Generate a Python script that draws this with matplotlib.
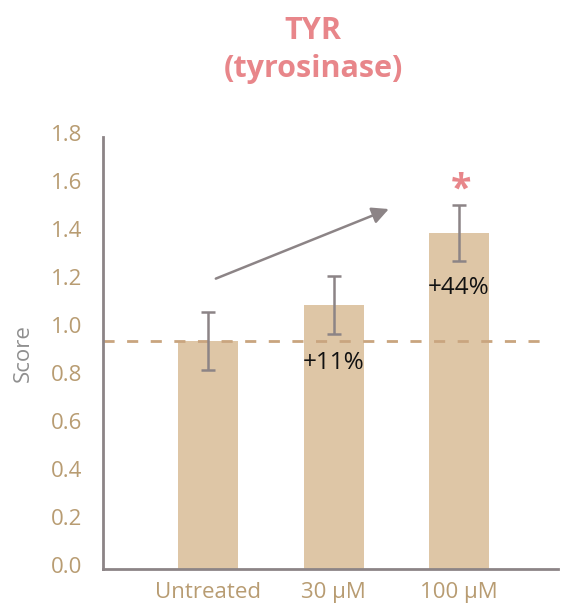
import matplotlib
matplotlib.use("Agg")
import matplotlib.pyplot as plt
from matplotlib.transforms import ScaledTranslation

# Data
categories = ["Untreated", "30 µM", "100 µM"]
scores = [0.95, 1.10, 1.40]
errors = [0.12, 0.12, 0.115]
change_labels = ["", "+11%", "+44%"]
yticks = [0.0, 0.2, 0.4, 0.6, 0.8, 1.0, 1.2, 1.4, 1.6, 1.8]

bar_color = "#DEC6A6"
tick_color = "#B89C72"
gray = "#8C8486"
pink = "#E8868A"

plt.rcParams["font.family"] = ["Open Sans", "DejaVu Sans"]

fig = plt.figure(figsize=(5.61, 6.06), dpi=100)
ax = fig.add_axes([0.1836, 0.0610, 0.8111, 0.7129])

x = list(range(len(categories)))
ax.bar(x, scores, width=0.48, color=bar_color, zorder=1)
ax.errorbar(x, scores, yerr=errors, fmt="none", ecolor=gray,
            elinewidth=1.8, capsize=5, capthick=1.8, zorder=3)

# Reference level of the untreated group
ax.axhline(scores[0], xmin=0, xmax=0.965, color="#C9A57F", lw=2,
           dashes=(4, 4.5), zorder=2)

# Percentage change labels
ax.text(1, 0.86, change_labels[1], ha="center", va="center",
        fontsize=17.5, color="#111111", zorder=4)
ax.text(2, 1.17, change_labels[2], ha="center", va="center",
        fontsize=17.5, color="#111111", zorder=4)

# Significance marker
ax.text(2.02, 1.575, "*", ha="center", va="center", fontsize=27,
        fontweight="bold", color=pink)

# Trend arrow
ax.annotate("", xy=(1.44, 1.50), xytext=(0.06, 1.21),
            arrowprops=dict(arrowstyle="-|>,head_length=1.0,head_width=0.5",
                            color=gray, lw=1.8, shrinkA=0, shrinkB=0))

ax.set_xlim(-0.84, 2.79)
ax.set_ylim(0, 1.8)
ax.set_yticks(yticks)
ax.set_yticklabels([f"{v:.1f}" for v in yticks])
ax.set_xticks(x)
ax.set_xticklabels(categories)
ax.tick_params(axis="both", length=0, labelsize=16, labelcolor=tick_color)
ax.tick_params(axis="y", pad=15)
ax.tick_params(axis="x", pad=9)
shift_up = ScaledTranslation(0, 4 / 100, fig.dpi_scale_trans)
for lab in ax.get_yticklabels():
    lab.set_horizontalalignment("right")
    lab.set_transform(lab.get_transform() + shift_up)

for s in ["top", "right"]:
    ax.spines[s].set_visible(False)
for s in ["left", "bottom"]:
    ax.spines[s].set_color(gray)
    ax.spines[s].set_linewidth(2)

ax.set_ylabel("Score", fontsize=16, color="#8F8F8F", labelpad=12)

fig.text(0.558, 0.949, "TYR", ha="center", va="center", fontsize=22,
         fontweight="bold", color=pink)
fig.text(0.558, 0.886, "(tyrosinase)", ha="center", va="center",
         fontsize=22, fontweight="bold", color=pink)

fig.savefig("out.png", dpi=100, facecolor="white")
